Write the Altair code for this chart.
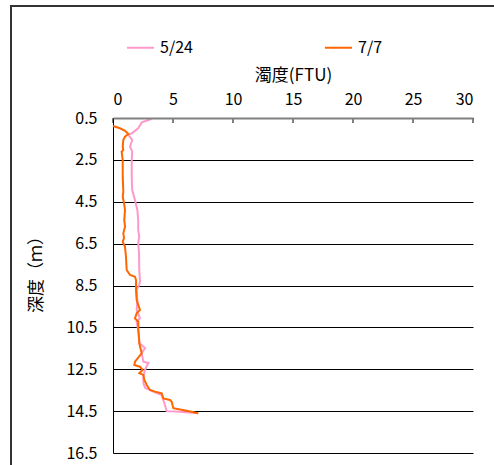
import altair as alt
import pandas as pd

# Turbidity profiles (FTU) against depth (m) for two survey dates
dates = ["5/24", "7/7"]
colors = ["#FF99CC", "#FF6600"]

depth_524 = [0.55, 0.71, 0.99, 1.23, 1.31, 1.55, 1.87, 2.11, 2.51, 3.30,
             3.94, 4.42, 4.89, 5.37, 5.85, 6.17, 6.47, 6.95, 7.76, 8.32,
             8.48, 8.71, 9.19, 9.67, 10.05, 10.23, 10.62, 11.25, 11.49, 11.72,
             12.14, 12.20, 12.53, 12.85, 13.16, 13.39, 13.57, 13.73, 13.97, 14.21,
             14.50, 14.53, 14.60]
ftu_524 = [3.2, 2.4, 2.1, 1.56, 1.28, 1.6, 1.42, 1.6, 1.56, 1.56,
           1.6, 1.83, 2.03, 2.1, 2.1, 2.19, 2.1, 2.17, 2.19, 2.25,
           2.17, 1.97, 2.03, 1.97, 2.25, 1.97, 2.1, 2.19, 2.67, 2.39,
           2.53, 2.94, 2.67, 2.53, 2.53, 2.67, 3.36, 4.06, 4.19, 4.33,
           4.47, 5.58, 7.1]

depth_77 = [0.88, 0.99, 1.11, 1.26, 1.39, 1.55, 1.87, 2.03, 2.11, 2.51,
            3.30, 4.02, 4.26, 4.57, 4.89, 5.37, 5.69, 6.01, 6.24, 6.41,
            6.65, 7.12, 7.76, 8.00, 8.08, 8.24, 8.71, 9.19, 9.67, 9.83,
            10.07, 10.23, 10.62, 11.10, 11.26, 11.74, 12.14, 12.30, 12.38, 12.53,
            12.69, 12.77, 13.01, 13.25, 13.49, 13.57, 13.65, 13.89, 13.97, 14.05,
            14.36, 14.48, 14.60]
ftu_77 = [0.0, 0.58, 1.0, 1.28, 1.0, 0.86, 0.81, 0.86, 0.72, 0.81,
          0.81, 0.86, 0.81, 0.92, 1.0, 0.94, 1.0, 0.86, 0.92, 0.81,
          1.0, 1.08, 1.14, 1.42, 1.83, 1.92, 1.92, 1.97, 2.25, 1.97,
          1.83, 2.11, 2.11, 2.19, 2.19, 2.39, 1.83, 1.78, 2.25, 2.47,
          2.19, 2.53, 2.61, 2.81, 3.08, 3.5, 4.06, 4.19, 4.75, 4.89,
          5.03, 6.14, 7.1]

x_ticks = [0, 5, 10, 15, 20, 25, 30]
y_ticks = [0.5, 2.5, 4.5, 6.5, 8.5, 10.5, 12.5, 14.5, 16.5]

FONT = "Noto Sans CJK JP"

df = pd.concat([
    pd.DataFrame({"date": dates[0], "depth": depth_524, "ftu": ftu_524}),
    pd.DataFrame({"date": dates[1], "depth": depth_77, "ftu": ftu_77}),
])

x_scale = alt.Scale(domain=[0, 30], nice=False, zero=False)
y_scale = alt.Scale(domain=[0.5, 16.5], reverse=True, nice=False, zero=False)

x_axis = alt.Axis(
    orient="top", values=x_ticks, title="濁度(FTU)", grid=False,
    ticks=False, tickSize=0, labelPadding=14, labelBaseline="alphabetic",
    labelFontSize=16, labelFont=FONT, labelColor="black",
    domainColor="#808080", domainWidth=2, zindex=1,
    titleFont=FONT, titleFontSize=17, titleFontWeight="normal",
    titleColor="black", titleX=180, titleY=-38, titleAlign="center",
    titleBaseline="alphabetic")

y_axis = alt.Axis(
    values=y_ticks, format=".1f", title="深度（ｍ）", grid=True,
    gridColor="black", gridWidth=1, ticks=False, tickSize=0, labelPadding=16,
    labelFontSize=16, labelFont=FONT, labelColor="black",
    labelBaseline="middle", domainColor="black", domainWidth=1,
    titleFont=FONT, titleFontSize=17, titleFontWeight="normal",
    titleColor="black", titleX=-77, titleY=152, titleAlign="center",
    titleBaseline="middle", titleAngle=270)

lines = alt.Chart(df).mark_line(strokeWidth=2).encode(
    x=alt.X("ftu:Q", scale=x_scale, axis=x_axis, title="濁度(FTU)"),
    y=alt.Y("depth:Q", scale=y_scale, axis=y_axis, title="深度（ｍ）"),
    color=alt.Color("date:N", scale=alt.Scale(domain=dates, range=colors),
                    legend=alt.Legend(
                        title=None, orient="none", legendX=13, legendY=-85,
                        direction="horizontal", columns=2, columnPadding=128,
                        symbolType="stroke", symbolSize=729,
                        symbolStrokeWidth=2, labelOffset=5,
                        labelFont=FONT, labelFontSize=16, labelColor="black",
                        padding=0)),
    order=alt.Order("depth:Q"),
)

# short inward tick marks hanging below the top axis
ticks = alt.Chart(pd.DataFrame({"ftu": x_ticks})).mark_rule(
    color="black", strokeWidth=1).encode(
    x=alt.X("ftu:Q", scale=x_scale, axis=x_axis, title="濁度(FTU)"),
    y=alt.value(0), y2=alt.value(5),
)

# outer chart frame
frame = alt.Chart(pd.DataFrame({"k": [0]})).mark_rect(
    fillOpacity=0, stroke="#333333", strokeWidth=2).encode(
    x=alt.value(-102), x2=alt.value(420),
    y=alt.value(-112), y2=alt.value(400),
)

chart = alt.layer(frame, lines, ticks).properties(
    width=360, height=335,
    padding={"left": 113, "top": 118, "right": 21, "bottom": 12},
    autosize="none",
).configure_view(strokeWidth=0)

chart.save("out.html", embed_options={"renderer": "svg", "actions": False})
